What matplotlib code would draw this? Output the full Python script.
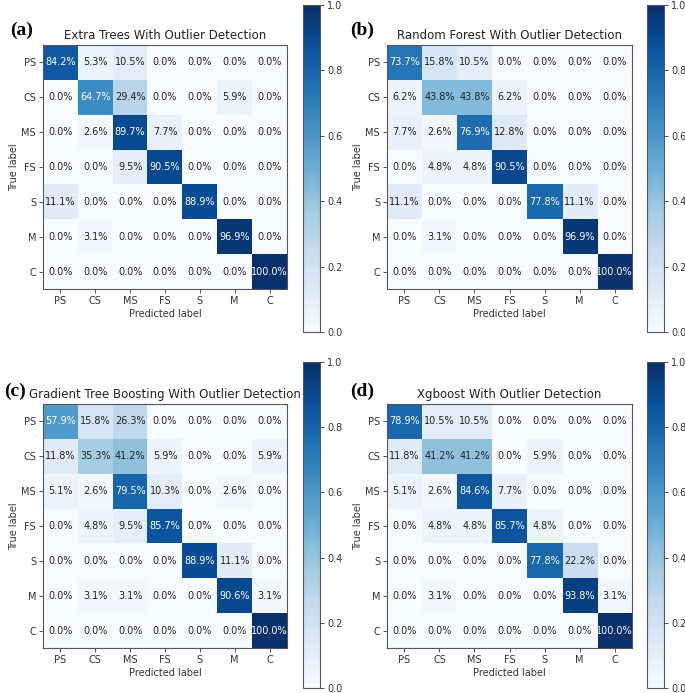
import numpy as np
import matplotlib
matplotlib.use("Agg")
import matplotlib.pyplot as plt

labels = ["PS", "CS", "MS", "FS", "S", "M", "C"]

extra_trees = [
    [84.2, 5.3, 10.5, 0.0, 0.0, 0.0, 0.0],
    [0.0, 64.7, 29.4, 0.0, 0.0, 5.9, 0.0],
    [0.0, 2.6, 89.7, 7.7, 0.0, 0.0, 0.0],
    [0.0, 0.0, 9.5, 90.5, 0.0, 0.0, 0.0],
    [11.1, 0.0, 0.0, 0.0, 88.9, 0.0, 0.0],
    [0.0, 3.1, 0.0, 0.0, 0.0, 96.9, 0.0],
    [0.0, 0.0, 0.0, 0.0, 0.0, 0.0, 100.0],
]
random_forest = [
    [73.7, 15.8, 10.5, 0.0, 0.0, 0.0, 0.0],
    [6.2, 43.8, 43.8, 6.2, 0.0, 0.0, 0.0],
    [7.7, 2.6, 76.9, 12.8, 0.0, 0.0, 0.0],
    [0.0, 4.8, 4.8, 90.5, 0.0, 0.0, 0.0],
    [11.1, 0.0, 0.0, 0.0, 77.8, 11.1, 0.0],
    [0.0, 3.1, 0.0, 0.0, 0.0, 96.9, 0.0],
    [0.0, 0.0, 0.0, 0.0, 0.0, 0.0, 100.0],
]
gradient_boosting = [
    [57.9, 15.8, 26.3, 0.0, 0.0, 0.0, 0.0],
    [11.8, 35.3, 41.2, 5.9, 0.0, 0.0, 5.9],
    [5.1, 2.6, 79.5, 10.3, 0.0, 2.6, 0.0],
    [0.0, 4.8, 9.5, 85.7, 0.0, 0.0, 0.0],
    [0.0, 0.0, 0.0, 0.0, 88.9, 11.1, 0.0],
    [0.0, 3.1, 3.1, 0.0, 0.0, 90.6, 3.1],
    [0.0, 0.0, 0.0, 0.0, 0.0, 0.0, 100.0],
]
xgboost = [
    [78.9, 10.5, 10.5, 0.0, 0.0, 0.0, 0.0],
    [11.8, 41.2, 41.2, 0.0, 5.9, 0.0, 0.0],
    [5.1, 2.6, 84.6, 7.7, 0.0, 0.0, 0.0],
    [0.0, 4.8, 4.8, 85.7, 4.8, 0.0, 0.0],
    [0.0, 0.0, 0.0, 0.0, 77.8, 22.2, 0.0],
    [0.0, 3.1, 0.0, 0.0, 0.0, 93.8, 3.1],
    [0.0, 0.0, 0.0, 0.0, 0.0, 0.0, 100.0],
]

titles = [
    "Extra Trees With Outlier Detection",
    "Random Forest With Outlier Detection",
    "Gradient Tree Boosting With Outlier Detection",
    "Xgboost With Outlier Detection",
]
panel_tags = ["(a)", "(b)", "(c)", "(d)"]
matrices = [extra_trees, random_forest, gradient_boosting, xgboost]

W, H = 685, 693
fig = plt.figure(figsize=(W / 100, H / 100), dpi=100)

# pixel boxes: (ax_left, ax_top, ax_right, ax_bottom), (cb_left, cb_top, cb_right, cb_bottom), tag pos
layout = [
    ((43, 45, 287, 289), (303, 5, 320, 332), (22, 30)),
    ((387, 45, 632, 289), (647, 5, 664, 332), (362, 30)),
    ((43, 404, 287, 648), (303, 362, 320, 688), (15, 391)),
    ((387, 404, 632, 648), (647, 362, 664, 688), (362, 391)),
]

def box(l, t, r, b):
    return [l / W, 1 - b / H, (r - l) / W, (b - t) / H]

cmap = plt.get_cmap("Blues")
fs = 7
for mat, title, tag, (axb, cbb, tp) in zip(matrices, titles, panel_tags, layout):
    m = np.array(mat) / 100.0
    ax = fig.add_axes(box(*axb))
    cax = fig.add_axes(box(*cbb))
    im = ax.imshow(m, cmap=cmap, vmin=0, vmax=1, interpolation="nearest", aspect="auto")
    n = len(labels)
    for i in range(n):
        for j in range(n):
            v = m[i, j]
            ax.text(j, i, f"{v*100:.1f}%", ha="center", va="center", fontsize=fs,
                    color="white" if v > 0.5 else "#222222")
    ax.set_xticks(range(n))
    ax.set_yticks(range(n))
    ax.set_xticklabels(labels, fontsize=fs)
    ax.set_yticklabels(labels, fontsize=fs)
    ax.tick_params(length=3, width=0.6, pad=2, colors="#333333")
    ax.set_xlabel("Predicted label", fontsize=fs, color="#333333", labelpad=2)
    ax.set_ylabel("True label", fontsize=fs, color="#333333", labelpad=2)
    ax.set_title(title, fontsize=8.5, color="#222222", pad=4)
    for s in ax.spines.values():
        s.set_color("#555555")
        s.set_linewidth(0.8)
    cb = fig.colorbar(im, cax=cax)
    cb.set_ticks([0.0, 0.2, 0.4, 0.6, 0.8, 1.0])
    cb.ax.tick_params(labelsize=fs, length=3, width=0.6, pad=2, colors="#333333")
    cb.outline.set_edgecolor("#555555")
    cb.outline.set_linewidth(0.8)
    fig.text(tp[0] / W, 1 - tp[1] / H, tag, fontsize=14, fontweight="bold",
             family="Liberation Serif", ha="center", va="center")

fig.savefig("out.png", dpi=100)
